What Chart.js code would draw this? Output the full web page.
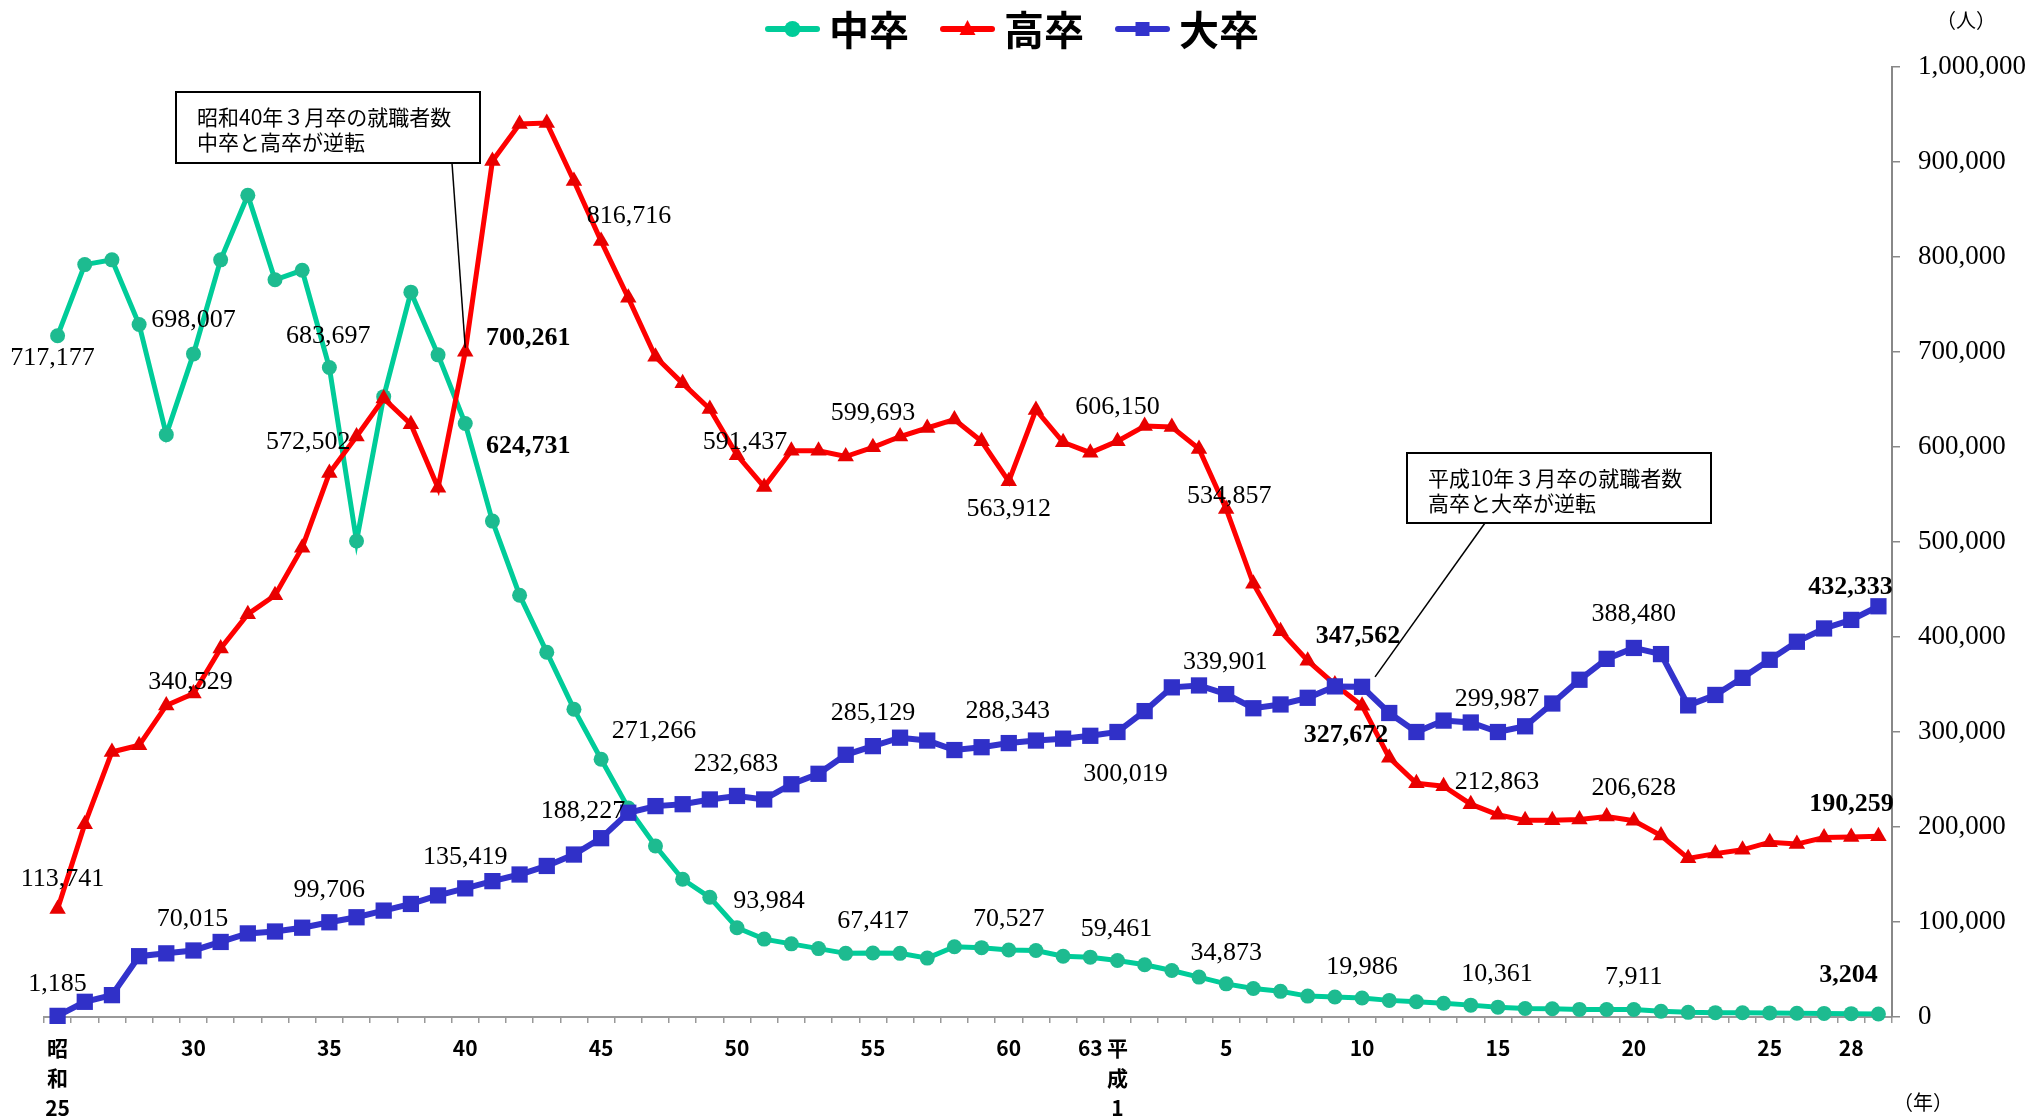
<!DOCTYPE html>
<html lang="ja">
<head>
<meta charset="utf-8">
<title>新規学卒就職者数の推移</title>
<script src="https://cdn.jsdelivr.net/npm/chart.js@4.4.1/dist/chart.umd.min.js"></script>
<style>
html, body { margin: 0; padding: 0; background: #fff; }
canvas { display: block; }
</style>
</head>
<body>
<canvas id="employedGraduates" width="2032" height="1120"></canvas>
<script>
// 卒業年 (昭和25 ～ 平成29)
var years = [
    '昭和25','昭和26','昭和27','昭和28','昭和29','昭和30','昭和31','昭和32','昭和33','昭和34',
    '昭和35','昭和36','昭和37','昭和38','昭和39','昭和40','昭和41','昭和42','昭和43','昭和44',
    '昭和45','昭和46','昭和47','昭和48','昭和49','昭和50','昭和51','昭和52','昭和53','昭和54',
    '昭和55','昭和56','昭和57','昭和58','昭和59','昭和60','昭和61','昭和62','昭和63',
    '平成1','平成2','平成3','平成4','平成5','平成6','平成7','平成8','平成9','平成10',
    '平成11','平成12','平成13','平成14','平成15','平成16','平成17','平成18','平成19','平成20',
    '平成21','平成22','平成23','平成24','平成25','平成26','平成27','平成28','平成29'
]

var tickLabels = {
    '昭和25': ['昭', '和', '25'], '昭和30': '30', '昭和35': '35', '昭和40': '40',
    '昭和45': '45', '昭和50': '50', '昭和55': '55', '昭和60': '60', '昭和63': '63',
    '平成1': ['平', '成', '1'], '平成5': '5', '平成10': '10', '平成15': '15',
    '平成20': '20', '平成25': '25', '平成28': '28'
}

var juniorHigh = [
    717177, 792000, 797000, 729000, 613000, 698007, 797000, 865000, 776000, 786000,
    683697, 501000, 653000, 763000, 697000, 624731, 522000, 444000, 384000, 324000,
    271266, 220000, 180000, 145000, 126000, 93984, 82000, 77000, 72000, 67000,
    67417, 67000, 62000, 74000, 73000, 70527, 70000, 64000, 63000,
    59461, 55000, 49000, 42000, 34873, 30000, 27000, 22000, 21000, 19986,
    17500, 16000, 14500, 12500, 10361, 8900, 8700, 8000, 7900, 7911,
    6000, 4900, 4600, 4400, 4300, 4000, 3800, 3500, 3204
]

var highSchool = [
    113741, 203000, 279000, 286000, 328000, 340529, 388000, 424000, 444000, 494000,
    572502, 611000, 651000, 624000, 557000, 700261, 901000, 940000, 941000, 880000,
    816716, 757000, 695000, 667000, 640000, 591437, 558000, 596000, 596000, 590000,
    599693, 611000, 620000, 629000, 606000, 563912, 639000, 605000, 594000,
    606150, 622000, 621000, 598000, 534857, 456000, 406000, 375000, 350000, 327672,
    273000, 246000, 243000, 224000, 212863, 207000, 207000, 208000, 211000, 206628,
    191000, 167000, 172000, 176000, 184000, 182000, 189000, 189500, 190259
]

var university = [
    1185, 16000, 23000, 64000, 67000, 70015, 79000, 88000, 90000, 94000,
    99706, 105000, 112000, 119000, 128000, 135419, 143000, 150000, 159000, 171000,
    188227, 215000, 222000, 224000, 229000, 232683, 229000, 245000, 256000, 276000,
    285129, 294000, 291000, 281000, 284000, 288343, 291000, 293000, 296000,
    300019, 322000, 347000, 349000, 339901, 325000, 329000, 336000, 348000, 347562,
    320000, 300000, 312000, 310000, 299987, 306000, 330000, 355000, 377000, 388480,
    382000, 328000, 339000, 357000, 376000, 395000, 409000, 418000, 432333
]

// 数値ラベル: [年の番号, 横ずれ, 縦ずれ, 太字]
var juniorLabels = [
    [0, -5, 22], [5, 0, -34], [10, -1, -31], [15, 63, 23, true], [20, 53, -28],
    [25, 32, -27], [30, 0, -32], [35, 0, -31], [39, -1, -31], [43, 0, -31],
    [48, 0, -31], [53, -1, -33], [58, 0, -32], [67, -30, -39, true]
]
var highLabels = [
    [0, 5, -30], [5, -3, -11], [10, -21, -31], [15, 63, -13, true], [20, 28, -25],
    [25, 8, -13], [30, 0, -34], [35, 0, 28], [39, 0, -34], [43, 3, -13],
    [48, -16, 30, true], [53, -1, -33], [58, 0, -33], [67, -27, -32, true]
]
var universityLabels = [
    [0, 0, -32], [5, -1, -31], [10, 0, -32], [15, 0, -31], [20, -18, -27],
    [25, -1, -32], [30, 0, -33], [35, -1, -32], [39, 8, 42], [43, -1, -32],
    [48, -4, -51, true], [53, -1, -33], [58, 0, -34], [67, -28, -19, true]
]

var callouts = [
    { lines: ['昭和40年３月卒の就職者数', '中卒と高卒が逆転'], box: [176, 92, 304, 71], from: [452, 163], dataset: 1, index: 15, end: [0, -4] },
    { lines: ['平成10年３月卒の就職者数', '高卒と大卒が逆転'], box: [1407, 453, 304, 70], from: [1485, 523], dataset: 2, index: 48, end: [13, -10] }
]

var JP = '"Noto Sans CJK JP", "Noto Sans", sans-serif'
var SERIF = '"Liberation Serif", "Times New Roman", serif'

function drawMarker(ctx, style, x, y, color) {
    ctx.fillStyle = color
    ctx.beginPath()
    if (style == 'circle') {
        ctx.arc(x, y, 8, 0, Math.PI * 2)
    } else if (style == 'triangle') {
        ctx.moveTo(x, y - 9)
        ctx.lineTo(x + 8, y + 6)
        ctx.lineTo(x - 8, y + 6)
        ctx.closePath()
    } else {
        ctx.rect(x - 7, y - 7, 14, 14)
    }
    ctx.fill()
}

var legendPlugin = {
    id: 'lineLegend',
    afterDraw: function(chart) {
        var ctx = chart.ctx
        var lineLen = 55, textGap = 9, itemGap = 31, centerX = 1012, y = 29
        ctx.save()
        ctx.font = 'bold 40px ' + JP
        var widths = chart.data.datasets.map(function(ds) { return ctx.measureText(ds.label).width })
        var total = widths.reduce(function(a, w) { return a + lineLen + textGap + w }, 0) + itemGap * (widths.length - 1)
        var x = centerX - total / 2
        chart.data.datasets.forEach(function(ds, i) {
            ctx.strokeStyle = ds.borderColor
            ctx.lineWidth = 6
            ctx.lineCap = 'round'
            ctx.beginPath()
            ctx.moveTo(x + 3, y)
            ctx.lineTo(x + lineLen - 3, y)
            ctx.stroke()
            drawMarker(ctx, ds.pointStyle, x + lineLen / 2, y, ds.borderColor)
            ctx.fillStyle = '#000'
            ctx.textAlign = 'left'
            ctx.textBaseline = 'middle'
            ctx.fillText(ds.label, x + lineLen + textGap, y + 1)
            x += lineLen + textGap + widths[i] + itemGap
        })
        ctx.restore()
    }
}

var valueLabelPlugin = {
    id: 'valueLabels',
    afterDatasetsDraw: function(chart) {
        var ctx = chart.ctx
        ctx.save()
        ctx.fillStyle = '#000'
        ctx.textAlign = 'center'
        ctx.textBaseline = 'middle'
        chart.data.datasets.forEach(function(ds, d) {
            var meta = chart.getDatasetMeta(d)
            ds.valueLabels.forEach(function(l) {
                var pt = meta.data[l[0]]
                ctx.font = (l[3] ? 'bold ' : '') + '26px ' + SERIF
                ctx.fillText(ds.data[l[0]].toLocaleString('en-US'), pt.x + l[1], pt.y + l[2])
            })
        })
        ctx.restore()
    }
}

var calloutPlugin = {
    id: 'callouts',
    afterDraw: function(chart) {
        var ctx = chart.ctx
        ctx.save()
        callouts.forEach(function(c) {
            var pt = chart.getDatasetMeta(c.dataset).data[c.index]
            ctx.strokeStyle = '#000'
            ctx.lineWidth = 1.5
            ctx.beginPath()
            ctx.moveTo(c.from[0], c.from[1])
            ctx.lineTo(pt.x + c.end[0], pt.y + c.end[1])
            ctx.stroke()
            ctx.fillStyle = '#fff'
            ctx.fillRect(c.box[0], c.box[1], c.box[2], c.box[3])
            ctx.lineWidth = 2
            ctx.strokeRect(c.box[0], c.box[1], c.box[2], c.box[3])
            ctx.fillStyle = '#000'
            ctx.font = '21px ' + JP
            ctx.textAlign = 'left'
            ctx.textBaseline = 'middle'
            c.lines.forEach(function(t, k) {
                ctx.fillText(t, c.box[0] + 21, c.box[1] + 25 + k * 25)
            })
        })
        // 単位
        ctx.font = '20px ' + JP
        ctx.textAlign = 'center'
        ctx.textBaseline = 'middle'
        ctx.fillText('（人）', 1966, 20)
        ctx.fillText('（年）', 1923, 1102)
        ctx.restore()
    }
}

employedGraduates()

function employedGraduates() {
    var canvas = document.querySelector('#employedGraduates')

    var juniorData = {
        label: '中卒',
        data: juniorHigh,
        borderColor: '#00cc99',
        backgroundColor: '#1dbb90',
        borderWidth: 5,
        pointStyle: 'circle',
        pointRadius: 7.5,
        pointBorderWidth: 0,
        pointBackgroundColor: '#1dbb90',
        order: 3,
        valueLabels: juniorLabels
    }
    var highData = {
        label: '高卒',
        data: highSchool,
        borderColor: '#ff0000',
        backgroundColor: '#e80000',
        borderWidth: 5,
        pointStyle: 'triangle',
        pointRadius: 9.5,
        pointBorderWidth: 0,
        pointBackgroundColor: '#e80000',
        order: 2,
        valueLabels: highLabels
    }
    var universityData = {
        label: '大卒',
        data: university,
        borderColor: '#3333cc',
        backgroundColor: '#3030c8',
        borderWidth: 6,
        pointStyle: 'rect',
        pointRadius: 11.5,
        pointBorderWidth: 0,
        pointBackgroundColor: '#3030c8',
        order: 1,
        valueLabels: universityLabels
    }

    var lineChart = new Chart(canvas, {
        type: 'line',
        data: {
            labels: years,
            datasets: [juniorData, highData, universityData]
        },
        options: {
            responsive: false,
            animation: false,
            devicePixelRatio: 1,
            clip: false,
            layout: { padding: { left: 44, top: 67, right: 0, bottom: 0 } },
            plugins: {
                legend: { display: false },
                tooltip: { enabled: false }
            },
            scales: {
                x: {
                    offset: true,
                    grid: { offset: true, drawOnChartArea: false, tickLength: 6, color: '#999', lineWidth: 1.5 },
                    border: { color: '#999', width: 2 },
                    ticks: {
                        autoSkip: false,
                        maxRotation: 0,
                        padding: 10,
                        color: '#000',
                        font: { family: JP, size: 21, weight: 'bold', lineHeight: 1.43 },
                        callback: function(v, i) { return tickLabels[years[i]] || '' }
                    },
                    afterFit: function(s) { s.height = 103 }
                },
                y: {
                    position: 'right',
                    min: 0,
                    max: 1000000,
                    grid: { drawOnChartArea: false, tickLength: 8, color: '#888', lineWidth: 1.5 },
                    border: { color: '#888', width: 2 },
                    ticks: {
                        stepSize: 100000,
                        padding: 18,
                        color: '#000',
                        font: { family: SERIF, size: 27 },
                        callback: function(v) { return v.toLocaleString('en-US') }
                    },
                    afterFit: function(s) { s.width = 140 }
                }
            }
        },
        plugins: [valueLabelPlugin, calloutPlugin, legendPlugin]
    })
}
</script>
</body>
</html>
